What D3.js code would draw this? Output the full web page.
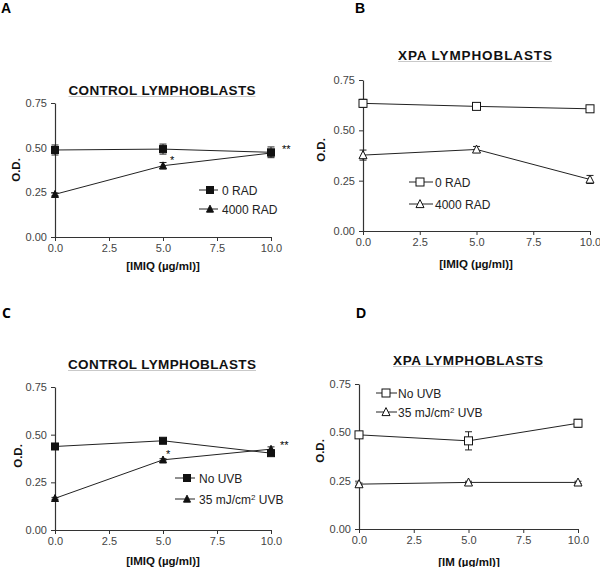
<!DOCTYPE html>
<html><head><meta charset="utf-8">
<script src="https://cdn.jsdelivr.net/npm/d3@7"></script>
<style>body{margin:0;background:#fff}svg{display:block;font-family:"Liberation Sans",Arial,sans-serif}</style>
</head><body><svg id="c" width="600" height="567"></svg>
<script>
// ---- data ----
const xVals = [0, 5, 10];
const xTicks = [0, 2.5, 5, 7.5, 10];
const yTicks = [0, 0.25, 0.5, 0.75];

const aRad0 = [0.487, 0.492, 0.474];
const aRad0Err = [0.028, 0.028, 0.03];
const aRad4000 = [0.239, 0.399, 0.47];
const aRad4000Err = [0.008, 0.018, 0.01];

const bRad0 = [0.634, 0.619, 0.607];
const bRad0Err = [0.02, 0.008, 0.008];
const bRad4000 = [0.377, 0.405, 0.256];
const bRad4000Err = [0.025, 0.015, 0.02];

const cNoUVB = [0.438, 0.468, 0.403];
const cNoUVBErr = [0.006, 0.006, 0.01];
const cUVB = [0.166, 0.368, 0.424];
const cUVBErr = [0.005, 0.006, 0.012];

const dNoUVB = [0.487, 0.456, 0.547];
const dNoUVBErr = [0.012, 0.047, 0.02];
const dUVB = [0.232, 0.241, 0.241];
const dUVBErr = [0.006, 0.006, 0.006];

const panelLetters = ["A", "B", "C", "D"];
const titles = ["CONTROL LYMPHOBLASTS", "XPA LYMPHOBLASTS", "CONTROL LYMPHOBLASTS", "XPA LYMPHOBLASTS"];
const xTitles = ["[IMIQ (\u00b5g/ml)]", "[IMIQ (\u00b5g/ml)]", "[IMIQ (\u00b5g/ml)]", "[IM (\u00b5g/ml)]"];
const yTitle = "O.D.";
const legendAB = ["0 RAD", "4000 RAD"];
const legendCD = ["No UVB", "35 mJ/cm|2| UVB"];

// ---- layout ----
const panels = [
  {letter:[1,13], x0:55, x1:271, yTop:103, yBot:237, title:[162,95,187], xt:[163,270], yt:[16,170],
   series:[{v:aRad0,e:aRad0Err,m:"sq",fill:true},{v:aRad4000,e:aRad4000Err,m:"tri",fill:true}],
   legend:{names:legendAB, x:[199,210,218,221], y:[190,209]},
   stars:[["*",170,164],["**",282,153]]},
  {letter:[355,13], x0:363, x1:590, yTop:80, yBot:231, title:[475,60,154], xt:[476,268], yt:[321,150],
   series:[{v:bRad0,e:bRad0Err,m:"sq",fill:false},{v:bRad4000,e:bRad4000Err,m:"tri",fill:false}],
   legend:{names:legendAB, x:[409,420,433,434], y:[182,204]}, stars:[]},
  {letter:[2,318], x0:55, x1:271, yTop:387, yBot:530, title:[162,369,188], xt:[163,565], yt:[18,456],
   series:[{v:cNoUVB,e:cNoUVBErr,m:"sq",fill:true},{v:cUVB,e:cUVBErr,m:"tri",fill:true}],
   legend:{names:legendCD, x:[175,187,195,198], y:[478,499]},
   stars:[["*",166,458],["**",280,449]]},
  {letter:[356,318], x0:359, x1:578, yTop:384, yBot:529, title:[468,365,150], xt:[469,566], yt:[320,451],
   series:[{v:dNoUVB,e:dNoUVBErr,m:"sq",fill:false},{v:dUVB,e:dUVBErr,m:"tri",fill:false}],
   legend:{names:legendCD, x:[376,386,397,397], y:[393,412]}, stars:[]}
];

const svg = d3.select("#c");
const ink = "#222", axisCol = "#333", tickCol = "#444";
const FONT = "'Liberation Sans',Arial,sans-serif";

function marker(g, type, fill, cx, cy) {
  if (type === "sq") {
    const s = fill ? 7 : 8;
    g.append("rect").attr("x", cx - s/2).attr("y", cy - s/2).attr("width", s).attr("height", s)
      .attr("fill", fill ? "#111" : "#fff").attr("stroke", "#111").attr("stroke-width", 1);
  } else {
    const s = fill ? 7 : 8;
    const p = d3.path();
    p.moveTo(cx, cy - s*0.55); p.lineTo(cx + s/2, cy + s*0.45); p.lineTo(cx - s/2, cy + s*0.45); p.closePath();
    g.append("path").attr("d", p.toString())
      .attr("fill", fill ? "#111" : "#fff").attr("stroke", "#111").attr("stroke-width", 1);
  }
}

function labelText(sel, str) {
  const parts = str.split("|");
  parts.forEach((p, i) => {
    const t = sel.append("tspan").text(p);
    if (i === 1) t.attr("baseline-shift", "super").attr("font-size", "8px");
  });
}

panels.forEach((P, pi) => {
  const g = svg.append("g").attr("font-family", FONT);
  const x = d3.scaleLinear().domain([0, 10]).range([P.x0, P.x1]);
  const y = d3.scaleLinear().domain([0, 0.75]).range([P.yBot, P.yTop]);

  g.append("text").attr("x", P.letter[0]).attr("y", P.letter[1]).text(panelLetters[pi])
    .attr("font-weight", "bold").attr("font-size", "14px").attr("fill", "#000")
    .attr("font-family", pi === 2 ? "'Open Sans',sans-serif" : FONT);

  // title
  const tw = P.title[2];
  g.append("text").attr("x", P.title[0] - tw/2).attr("y", P.title[1]).text(titles[pi])
    .attr("font-weight", "bold").attr("font-size", "13.5px").attr("fill", "#111")
    .attr("textLength", tw).attr("lengthAdjust", "spacing");
  g.append("line").attr("x1", P.title[0] - tw/2).attr("x2", P.title[0] + tw/2)
    .attr("y1", P.title[1] + 1.5).attr("y2", P.title[1] + 1.5).attr("stroke", "#bbb").attr("stroke-width", 0.8);

  // axes
  const ax = g.append("g").attr("transform", `translate(0,${P.yBot})`)
    .call(d3.axisBottom(x).tickValues(xTicks).tickFormat(d3.format(".1f")).tickSize(4).tickSizeOuter(0));
  const ay = g.append("g").attr("transform", `translate(${P.x0},0)`)
    .call(d3.axisLeft(y).tickValues(yTicks).tickFormat(d3.format(".2f")).tickSize(4).tickSizeOuter(0));
  [ax, ay].forEach(a => {
    a.attr("font-family", FONT);
    a.select(".domain").attr("stroke", axisCol).attr("stroke-width", 1.2);
    a.selectAll(".tick line").attr("stroke", axisCol).attr("stroke-width", 1);
    a.selectAll(".tick text").attr("fill", tickCol).attr("font-size", "11px");
  });
  ax.selectAll(".tick text").attr("dy", "0.75em");
  ay.selectAll(".tick text").attr("dx", "-1px");

  g.append("text").attr("x", P.xt[0]).attr("y", P.xt[1]).attr("text-anchor", "middle")
    .attr("font-weight", "bold").attr("font-size", "11.5px").attr("fill", "#111").text(xTitles[pi]);
  g.append("text").attr("transform", `translate(${P.yt[0] + 4},${P.yt[1]}) rotate(-90)`)
    .attr("text-anchor", "middle").attr("font-weight", "bold").attr("font-size", "11.5px")
    .attr("fill", "#111").text(yTitle);

  // lines, error bars, markers
  P.series.forEach(S => {
    const line = d3.line().x((d, i) => x(xVals[i])).y(d => y(d));
    g.append("path").attr("d", line(S.v)).attr("fill", "none").attr("stroke", ink).attr("stroke-width", 1);
  });
  P.series.forEach(S => {
    S.v.forEach((v, i) => {
      const cx = x(xVals[i]);
      const hi = y(v + S.e[i]), lo = y(v - S.e[i]);
      g.append("line").attr("x1", cx).attr("x2", cx).attr("y1", hi).attr("y2", lo).attr("stroke", ink).attr("stroke-width", 1);
      [hi, lo].forEach(yy => g.append("line").attr("x1", cx - 3.5).attr("x2", cx + 3.5)
        .attr("y1", yy).attr("y2", yy).attr("stroke", ink).attr("stroke-width", 1));
    });
  });
  P.series.slice().reverse().forEach(S => {
    S.v.forEach((v, i) => marker(g, S.m, S.fill, x(xVals[i]), y(v)));
  });

  // legend
  P.series.forEach((S, si) => {
    const ly = P.legend.y[si];
    g.append("line").attr("x1", P.legend.x[0]).attr("x2", P.legend.x[2]).attr("y1", ly).attr("y2", ly)
      .attr("stroke", ink).attr("stroke-width", 1);
    marker(g, S.m, S.fill, P.legend.x[1], ly);
    const t = g.append("text").attr("x", P.legend.x[3] + 1).attr("y", ly + 4.5)
      .attr("font-size", "12px").attr("fill", "#222");
    labelText(t, P.legend.names[si]);
  });

  P.stars.forEach(s => g.append("text").attr("x", s[1]).attr("y", s[2]).text(s[0])
    .attr("font-size", "11px").attr("fill", "#000").attr("font-family", FONT));
});
</script></body></html>
